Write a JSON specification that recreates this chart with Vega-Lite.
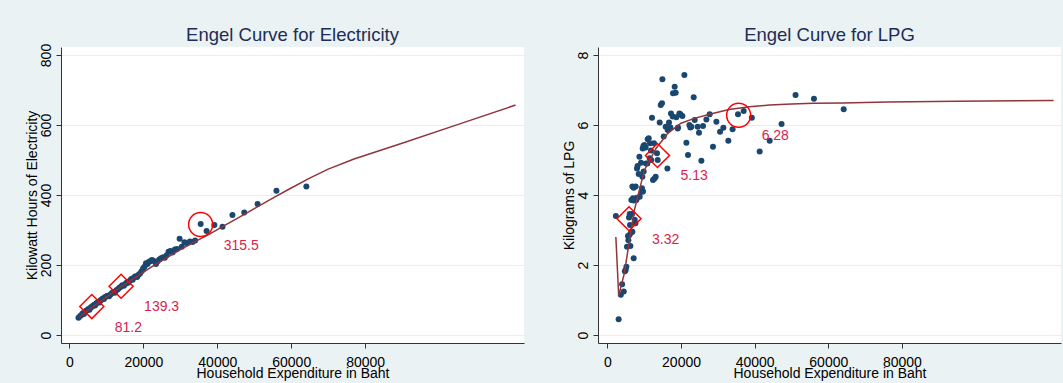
{
  "$schema": "https://vega.github.io/schema/vega-lite/v6.json",
  "background": "#eaf2f3",
  "padding": {"left": 25, "top": 25, "right": 2, "bottom": 4},
  "spacing": 38,
  "datasets": {
    "elecPts": [
      {"expenditure": 2430, "amount": 49}, {"expenditure": 2900, "amount": 54}, {"expenditure": 3300, "amount": 58},
      {"expenditure": 3600, "amount": 62}, {"expenditure": 3900, "amount": 60}, {"expenditure": 4200, "amount": 66},
      {"expenditure": 4500, "amount": 69}, {"expenditure": 4800, "amount": 71}, {"expenditure": 5100, "amount": 74},
      {"expenditure": 5400, "amount": 72}, {"expenditure": 5700, "amount": 78}, {"expenditure": 6000, "amount": 81},
      {"expenditure": 6300, "amount": 83}, {"expenditure": 6600, "amount": 86}, {"expenditure": 6900, "amount": 84},
      {"expenditure": 7200, "amount": 90}, {"expenditure": 7500, "amount": 92}, {"expenditure": 7800, "amount": 95},
      {"expenditure": 8100, "amount": 93}, {"expenditure": 8400, "amount": 99}, {"expenditure": 8700, "amount": 101},
      {"expenditure": 9000, "amount": 104}, {"expenditure": 9300, "amount": 103}, {"expenditure": 9600, "amount": 108},
      {"expenditure": 9900, "amount": 110}, {"expenditure": 10300, "amount": 112}, {"expenditure": 10700, "amount": 111},
      {"expenditure": 11100, "amount": 116}, {"expenditure": 11500, "amount": 120}, {"expenditure": 11900, "amount": 123},
      {"expenditure": 12300, "amount": 121}, {"expenditure": 12700, "amount": 128}, {"expenditure": 13100, "amount": 131},
      {"expenditure": 13500, "amount": 135}, {"expenditure": 13900, "amount": 138}, {"expenditure": 14300, "amount": 142},
      {"expenditure": 14700, "amount": 141}, {"expenditure": 15100, "amount": 146}, {"expenditure": 15500, "amount": 150},
      {"expenditure": 15900, "amount": 149}, {"expenditure": 16300, "amount": 155}, {"expenditure": 16700, "amount": 160},
      {"expenditure": 17100, "amount": 158}, {"expenditure": 17500, "amount": 165}, {"expenditure": 17900, "amount": 168},
      {"expenditure": 18300, "amount": 166}, {"expenditure": 18700, "amount": 172}, {"expenditure": 19100, "amount": 176},
      {"expenditure": 19500, "amount": 182}, {"expenditure": 19900, "amount": 190}, {"expenditure": 20300, "amount": 195},
      {"expenditure": 20700, "amount": 205}, {"expenditure": 21100, "amount": 203}, {"expenditure": 21500, "amount": 209},
      {"expenditure": 21900, "amount": 211}, {"expenditure": 22300, "amount": 214}, {"expenditure": 22700, "amount": 212},
      {"expenditure": 23400, "amount": 203}, {"expenditure": 23800, "amount": 210}, {"expenditure": 24300, "amount": 216},
      {"expenditure": 24800, "amount": 219}, {"expenditure": 25300, "amount": 222}, {"expenditure": 25800, "amount": 221},
      {"expenditure": 26300, "amount": 228}, {"expenditure": 26800, "amount": 238}, {"expenditure": 27300, "amount": 240},
      {"expenditure": 27900, "amount": 236}, {"expenditure": 28500, "amount": 244}, {"expenditure": 29100, "amount": 246},
      {"expenditure": 29800, "amount": 275}, {"expenditure": 30400, "amount": 252}, {"expenditure": 31100, "amount": 265},
      {"expenditure": 31800, "amount": 262}, {"expenditure": 32600, "amount": 267}, {"expenditure": 33300, "amount": 266},
      {"expenditure": 34000, "amount": 270}, {"expenditure": 35500, "amount": 317}, {"expenditure": 37100, "amount": 297},
      {"expenditure": 39200, "amount": 314}, {"expenditure": 41400, "amount": 309}, {"expenditure": 44100, "amount": 343},
      {"expenditure": 47300, "amount": 350}, {"expenditure": 50900, "amount": 374}, {"expenditure": 56000, "amount": 412},
      {"expenditure": 64100, "amount": 424}
    ],
    "elecFit": [
      {"expenditure": 2700, "amount": 52}, {"expenditure": 6000, "amount": 78}, {"expenditure": 10000, "amount": 108},
      {"expenditure": 14000, "amount": 138}, {"expenditure": 18000, "amount": 165}, {"expenditure": 22000, "amount": 193},
      {"expenditure": 26000, "amount": 219}, {"expenditure": 30000, "amount": 244}, {"expenditure": 34000, "amount": 267},
      {"expenditure": 38000, "amount": 289}, {"expenditure": 42000, "amount": 313}, {"expenditure": 46000, "amount": 337},
      {"expenditure": 50000, "amount": 361}, {"expenditure": 55000, "amount": 391}, {"expenditure": 60000, "amount": 420},
      {"expenditure": 65000, "amount": 448}, {"expenditure": 70000, "amount": 474}, {"expenditure": 77000, "amount": 503},
      {"expenditure": 90000, "amount": 548}, {"expenditure": 105000, "amount": 601}, {"expenditure": 120700, "amount": 657}
    ],
    "elecMarks": [
      {"expenditure": 6030, "amount": 81.2, "group": "low"},
      {"expenditure": 13970, "amount": 139.3, "group": "mid"},
      {"expenditure": 35490, "amount": 315.5, "group": "high"}
    ],
    "lpgPts": [
      {"expenditure": 2300, "amount": 3.40}, {"expenditure": 3050, "amount": 0.45}, {"expenditure": 3650, "amount": 1.15},
      {"expenditure": 4000, "amount": 1.45}, {"expenditure": 4450, "amount": 1.24}, {"expenditure": 4750, "amount": 1.82},
      {"expenditure": 4970, "amount": 1.86}, {"expenditure": 5160, "amount": 1.95}, {"expenditure": 5320, "amount": 2.52},
      {"expenditure": 5600, "amount": 2.83}, {"expenditure": 5700, "amount": 2.71}, {"expenditure": 5980, "amount": 2.86},
      {"expenditure": 5870, "amount": 3.36}, {"expenditure": 6060, "amount": 3.46}, {"expenditure": 6140, "amount": 3.14},
      {"expenditure": 6250, "amount": 2.54}, {"expenditure": 6410, "amount": 2.92}, {"expenditure": 6520, "amount": 3.86},
      {"expenditure": 6680, "amount": 3.46}, {"expenditure": 6790, "amount": 2.95}, {"expenditure": 6790, "amount": 4.24},
      {"expenditure": 6960, "amount": 3.91}, {"expenditure": 7140, "amount": 2.19}, {"expenditure": 7140, "amount": 3.84},
      {"expenditure": 7140, "amount": 4.21}, {"expenditure": 7420, "amount": 3.29}, {"expenditure": 7610, "amount": 3.19},
      {"expenditure": 7690, "amount": 4.24}, {"expenditure": 7870, "amount": 3.86}, {"expenditure": 8040, "amount": 4.76},
      {"expenditure": 8040, "amount": 3.92}, {"expenditure": 8200, "amount": 4.83}, {"expenditure": 8500, "amount": 4.60},
      {"expenditure": 8690, "amount": 5.09}, {"expenditure": 8770, "amount": 3.95}, {"expenditure": 9130, "amount": 4.92},
      {"expenditure": 9320, "amount": 4.09}, {"expenditure": 9400, "amount": 4.19}, {"expenditure": 9500, "amount": 4.52},
      {"expenditure": 9590, "amount": 5.33}, {"expenditure": 9680, "amount": 4.10}, {"expenditure": 9780, "amount": 5.40},
      {"expenditure": 9860, "amount": 4.67}, {"expenditure": 10050, "amount": 5.43}, {"expenditure": 10400, "amount": 5.36},
      {"expenditure": 10490, "amount": 4.90}, {"expenditure": 10860, "amount": 4.90}, {"expenditure": 10950, "amount": 5.59},
      {"expenditure": 11220, "amount": 5.62}, {"expenditure": 11490, "amount": 5.05}, {"expenditure": 11580, "amount": 5.48},
      {"expenditure": 11840, "amount": 5.27}, {"expenditure": 11900, "amount": 5.00}, {"expenditure": 12110, "amount": 6.21},
      {"expenditure": 12390, "amount": 4.43}, {"expenditure": 12660, "amount": 5.48}, {"expenditure": 12800, "amount": 4.47},
      {"expenditure": 13120, "amount": 4.52}, {"expenditure": 13470, "amount": 5.19}, {"expenditure": 13660, "amount": 5.00},
      {"expenditure": 14200, "amount": 6.07}, {"expenditure": 14480, "amount": 6.57}, {"expenditure": 14830, "amount": 6.62},
      {"expenditure": 14940, "amount": 7.31}, {"expenditure": 15290, "amount": 5.67}, {"expenditure": 15830, "amount": 5.95},
      {"expenditure": 16300, "amount": 4.76}, {"expenditure": 16380, "amount": 5.86}, {"expenditure": 16730, "amount": 6.07},
      {"expenditure": 17110, "amount": 5.93}, {"expenditure": 17280, "amount": 6.33}, {"expenditure": 17740, "amount": 6.24},
      {"expenditure": 17820, "amount": 6.91}, {"expenditure": 18280, "amount": 7.09}, {"expenditure": 18550, "amount": 6.92},
      {"expenditure": 18740, "amount": 6.22}, {"expenditure": 19100, "amount": 5.90}, {"expenditure": 19180, "amount": 5.93},
      {"expenditure": 19550, "amount": 6.33}, {"expenditure": 19830, "amount": 6.31}, {"expenditure": 20370, "amount": 6.26},
      {"expenditure": 20910, "amount": 7.43}, {"expenditure": 21460, "amount": 5.49}, {"expenditure": 21890, "amount": 5.14},
      {"expenditure": 22270, "amount": 6.00}, {"expenditure": 22540, "amount": 5.93}, {"expenditure": 22810, "amount": 5.95},
      {"expenditure": 23440, "amount": 6.79}, {"expenditure": 23710, "amount": 6.14}, {"expenditure": 24530, "amount": 5.95},
      {"expenditure": 24880, "amount": 5.78}, {"expenditure": 25530, "amount": 4.98}, {"expenditure": 25970, "amount": 5.97},
      {"expenditure": 26890, "amount": 6.16}, {"expenditure": 27790, "amount": 6.31}, {"expenditure": 28680, "amount": 5.38},
      {"expenditure": 29600, "amount": 6.09}, {"expenditure": 30600, "amount": 5.81}, {"expenditure": 31500, "amount": 5.92},
      {"expenditure": 32850, "amount": 5.55}, {"expenditure": 34000, "amount": 5.88}, {"expenditure": 35470, "amount": 6.31},
      {"expenditure": 37020, "amount": 6.40}, {"expenditure": 39230, "amount": 6.21}, {"expenditure": 41360, "amount": 5.24},
      {"expenditure": 44080, "amount": 5.55}, {"expenditure": 47300, "amount": 6.03}, {"expenditure": 51100, "amount": 6.86},
      {"expenditure": 56100, "amount": 6.75}, {"expenditure": 64180, "amount": 6.45}
    ],
    "lpgFit": [
      {"expenditure": 2300, "amount": 2.80}, {"expenditure": 3070, "amount": 1.12}, {"expenditure": 4600, "amount": 1.76},
      {"expenditure": 6000, "amount": 2.71}, {"expenditure": 7330, "amount": 3.57}, {"expenditure": 8690, "amount": 4.14},
      {"expenditure": 10050, "amount": 4.71}, {"expenditure": 13200, "amount": 5.33}, {"expenditure": 16400, "amount": 5.76},
      {"expenditure": 20000, "amount": 6.05}, {"expenditure": 23600, "amount": 6.19}, {"expenditure": 27500, "amount": 6.30},
      {"expenditure": 33000, "amount": 6.44}, {"expenditure": 38600, "amount": 6.52}, {"expenditure": 44000, "amount": 6.57},
      {"expenditure": 50000, "amount": 6.60}, {"expenditure": 56000, "amount": 6.62}, {"expenditure": 64000, "amount": 6.63},
      {"expenditure": 76000, "amount": 6.66}, {"expenditure": 95000, "amount": 6.68}, {"expenditure": 121200, "amount": 6.70}
    ],
    "lpgMarks": [
      {"expenditure": 5880, "amount": 3.32, "group": "low"},
      {"expenditure": 13600, "amount": 5.13, "group": "mid"},
      {"expenditure": 35650, "amount": 6.28, "group": "high"}
    ]
  },
  "config": {
    "font": "Liberation Sans",
    "view": {"stroke": null, "fill": "white"},
    "axis": {
      "domainColor": "#333333", "tickColor": "#333333", "tickSize": 5,
      "labelFont": "Liberation Sans", "labelFontSize": 14, "labelColor": "#000000",
      "titleFont": "Liberation Sans", "titleFontSize": 14, "titleFontWeight": "normal", "titleColor": "#000000",
      "gridColor": "#e6eef0", "gridWidth": 1, "labelFlush": false, "labelOverlap": false
    },
    "axisX": {"grid": false, "labelPadding": 7, "titlePadding": 8, "titleBaseline": "alphabetic", "labelBaseline": "top"},
    "axisY": {"grid": true, "labelAngle": 270, "labelAlign": "center", "labelBaseline": "alphabetic", "labelPadding": 6, "titlePadding": 3, "titleBaseline": "alphabetic"},
    "title": {"fontSize": 18.5, "fontWeight": "normal", "color": "#1e2d55", "baseline": "alphabetic", "anchor": "middle", "font": "Liberation Sans"}
  },
  "hconcat": [
    {
      "width": 463,
      "height": 296,
      "title": {"text": "Engel Curve for Electricity", "offset": -1},
      "encoding": {
        "x": {"field": "expenditure", "type": "quantitative", "title": "Household Expenditure in Baht",
              "scale": {"domain": [-2300, 123000], "nice": false, "zero": false},
              "axis": {"values": [0, 20000, 40000, 60000, 80000], "format": "d"}},
        "y": {"field": "amount", "type": "quantitative", "title": "Kilowatt Hours of Electricity",
              "scale": {"domain": [-22.9, 822.9], "nice": false, "zero": false},
              "axis": {"values": [0, 200, 400, 600, 800], "format": "d"}}
      },
      "layer": [
        {"data": {"name": "elecPts"}, "mark": {"type": "circle", "color": "#1a476f", "opacity": 1, "size": 36}},
        {"data": {"name": "elecFit"}, "mark": {"type": "line", "color": "#90353b", "strokeWidth": 1.5}},
        {"data": {"name": "elecMarks"}, "mark": {"type": "point", "filled": false, "color": "#ff0000", "strokeWidth": 1.5, "opacity": 1},
         "encoding": {
           "shape": {"field": "group", "type": "nominal", "scale": {"domain": ["low", "mid", "high"], "range": ["diamond", "diamond", "circle"]}, "legend": null},
           "size": {"field": "group", "type": "nominal", "scale": {"domain": ["low", "mid", "high"], "range": [576, 576, 380]}, "legend": null}
         }},
        {"data": {"name": "elecMarks"}, "mark": {"type": "text", "align": "left", "baseline": "middle", "dx": 23, "dy": 21, "fontSize": 14, "color": "#d91e4b"},
         "encoding": {"text": {"field": "amount", "type": "quantitative", "format": ".1f"}}}
      ]
    },
    {
      "width": 463,
      "height": 296,
      "title": {"text": "Engel Curve for LPG", "offset": 3},
      "encoding": {
        "x": {"field": "expenditure", "type": "quantitative", "title": "Household Expenditure in Baht",
              "scale": {"domain": [-2550, 123200], "nice": false, "zero": false},
              "axis": {"values": [0, 20000, 40000, 60000, 80000], "format": "d"}},
        "y": {"field": "amount", "type": "quantitative", "title": "Kilograms of LPG",
              "scale": {"domain": [-0.229, 8.229], "nice": false, "zero": false},
              "axis": {"values": [0, 2, 4, 6, 8], "format": "d"}}
      },
      "layer": [
        {"data": {"name": "lpgPts"}, "mark": {"type": "circle", "color": "#1a476f", "opacity": 1, "size": 36}},
        {"data": {"name": "lpgFit"}, "mark": {"type": "line", "color": "#90353b", "strokeWidth": 1.5}},
        {"data": {"name": "lpgMarks"}, "mark": {"type": "point", "filled": false, "color": "#ff0000", "strokeWidth": 1.5, "opacity": 1},
         "encoding": {
           "shape": {"field": "group", "type": "nominal", "scale": {"domain": ["low", "mid", "high"], "range": ["diamond", "diamond", "circle"]}, "legend": null},
           "size": {"field": "group", "type": "nominal", "scale": {"domain": ["low", "mid", "high"], "range": [576, 576, 380]}, "legend": null}
         }},
        {"data": {"name": "lpgMarks"}, "mark": {"type": "text", "align": "left", "baseline": "middle", "dx": 23, "dy": 21, "fontSize": 14, "color": "#d91e4b"},
         "encoding": {"text": {"field": "amount", "type": "quantitative", "format": ".2f"}}}
      ]
    }
  ]
}
